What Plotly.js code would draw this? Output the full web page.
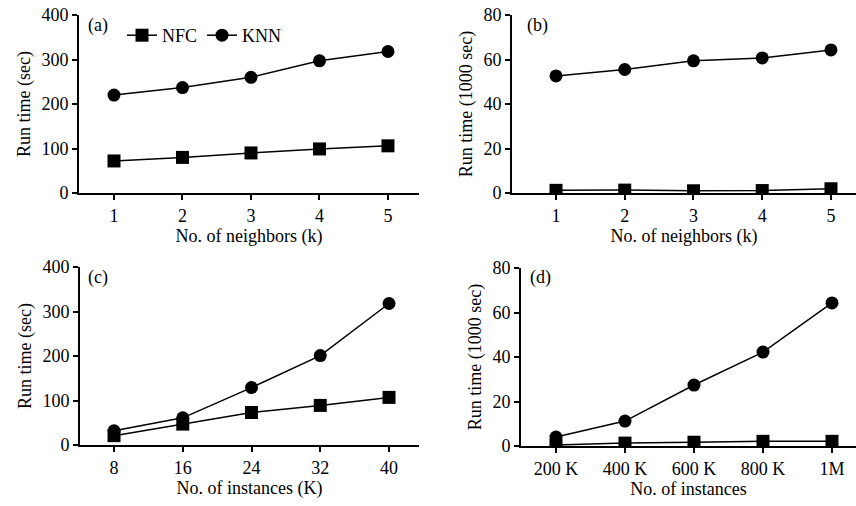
<!DOCTYPE html>
<html>
<head>
<meta charset="utf-8">
<script src="https://cdn.plot.ly/plotly-3.0.1.min.js"></script>
<style>html,body{margin:0;padding:0;background:#fff;}#chart{width:856px;height:506px;}</style>
</head>
<body>
<div id="chart"></div>
<script>
// ---- data ----
const neighbors = [1, 2, 3, 4, 5];
const instancesK = [8, 16, 24, 32, 40];
const instancesBigPos = [1, 2, 3, 4, 5];
const instancesBigLabels = ["200 K", "400 K", "600 K", "800 K", "1M"];

const nfcA = [72, 80, 90, 99, 106];
const knnA = [220, 237, 260, 297, 318];
const nfcB = [1.2, 1.3, 1.0, 1.1, 1.9];
const knnB = [52.6, 55.5, 59.4, 60.7, 64.3];
const nfcC = [21, 47, 73, 89, 107];
const knnC = [32, 61, 129, 201, 318];
const nfcD = [0.5, 1.3, 1.7, 2.1, 2.1];
const knnD = [4.0, 11.2, 27.4, 42.2, 64.3];

const W = 856, H = 506;
const px = v => v / W;
const py = v => 1 - v / H;

const FONT = "Liberation Serif, Times New Roman, serif";
const FS = 18;
const lineStyle = {color: "#000", width: 1.5};
const sq = {symbol: "square", size: 13, color: "#000"};
const ci = {symbol: "circle", size: 13, color: "#000"};

function tr(x, y, name, marker, xa, ya, show) {
  return {x: x, y: y, name: name, type: "scatter", mode: "lines+markers",
    line: lineStyle, marker: marker, xaxis: xa, yaxis: ya, showlegend: show};
}

const data = [
  tr(neighbors, nfcA, "NFC", sq, "x", "y", true),
  tr(neighbors, knnA, "KNN", ci, "x", "y", true),
  tr(neighbors, nfcB, "NFC", sq, "x2", "y2", false),
  tr(neighbors, knnB, "KNN", ci, "x2", "y2", false),
  tr(instancesK, nfcC, "NFC", sq, "x3", "y3", false),
  tr(instancesK, knnC, "KNN", ci, "x3", "y3", false),
  tr(instancesBigPos, nfcD, "NFC", sq, "x4", "y4", false),
  tr(instancesBigPos, knnD, "KNN", ci, "x4", "y4", false)
];

function xax(domain, range, title, extra) {
  return Object.assign({
    domain: domain, range: range, showgrid: false, zeroline: false,
    showline: true, linecolor: "#000", linewidth: 2,
    ticks: "outside", ticklen: 5, tickwidth: 2, tickcolor: "#000",
    tickfont: {family: FONT, size: FS, color: "#000"},
    title: {text: title, font: {family: FONT, size: FS, color: "#000"}, standoff: 2},
    automargin: false, fixedrange: true
  }, extra || {});
}
function yax(domain, range, dtick, title, anchor) {
  return {
    domain: domain, range: range, dtick: dtick, anchor: anchor,
    showgrid: false, zeroline: false,
    showline: true, linecolor: "#000", linewidth: 2,
    ticks: "outside", ticklen: 5, tickwidth: 2, tickcolor: "#000",
    tickfont: {family: FONT, size: FS, color: "#000"},
    title: {text: title, font: {family: FONT, size: FS, color: "#000"}, standoff: 6},
    automargin: false, fixedrange: true
  };
}

const layout = {
  width: W, height: H,
  margin: {l: 0, r: 0, t: 0, b: 0},
  paper_bgcolor: "#fff", plot_bgcolor: "#fff",
  font: {family: FONT, size: FS, color: "#000"},
  xaxis: xax([px(79), px(419)], [0.489, 5.453], "No. of neighbors (k)", {anchor: "y", tickvals: neighbors}),
  yaxis: yax([py(193), py(15)], [0, 400], 100, "Run time (sec)", "x"),
  xaxis2: xax([px(512), px(856)], [0.36, 5.364], "No. of neighbors (k)", {anchor: "y2", tickvals: neighbors}),
  yaxis2: yax([py(193), py(15)], [0, 80], 20, "Run time (1000 sec)", "x2"),
  xaxis3: xax([px(80), px(419)], [4.04, 43.49], "No. of instances (K)", {anchor: "y3", tickvals: instancesK}),
  yaxis3: yax([py(445), py(267)], [0, 400], 100, "Run time (sec)", "x3"),
  xaxis4: xax([px(521), px(856)], [0.493, 5.348], "No. of instances", {anchor: "y4", tickvals: instancesBigPos, ticktext: instancesBigLabels}),
  yaxis4: yax([py(446), py(268)], [0, 80], 20, "Run time (1000 sec)", "x4"),
  showlegend: true,
  legend: {
    orientation: "h", x: px(122), y: py(17), xanchor: "left", yanchor: "top",
    bgcolor: "rgba(0,0,0,0)", font: {family: FONT, size: FS, color: "#000"},
    tracegroupgap: 0, itemwidth: 30
  },
  annotations: [
    {text: "(a)", x: px(86), y: py(13), xref: "paper", yref: "paper", xanchor: "left", yanchor: "top", showarrow: false, font: {family: FONT, size: FS, color: "#000"}},
    {text: "(b)", x: px(525), y: py(13), xref: "paper", yref: "paper", xanchor: "left", yanchor: "top", showarrow: false, font: {family: FONT, size: FS, color: "#000"}},
    {text: "(c)", x: px(86), y: py(265), xref: "paper", yref: "paper", xanchor: "left", yanchor: "top", showarrow: false, font: {family: FONT, size: FS, color: "#000"}},
    {text: "(d)", x: px(528), y: py(265), xref: "paper", yref: "paper", xanchor: "left", yanchor: "top", showarrow: false, font: {family: FONT, size: FS, color: "#000"}}
  ]
};

Plotly.newPlot("chart", data, layout, {displayModeBar: false, staticPlot: true});
</script>
</body>
</html>
